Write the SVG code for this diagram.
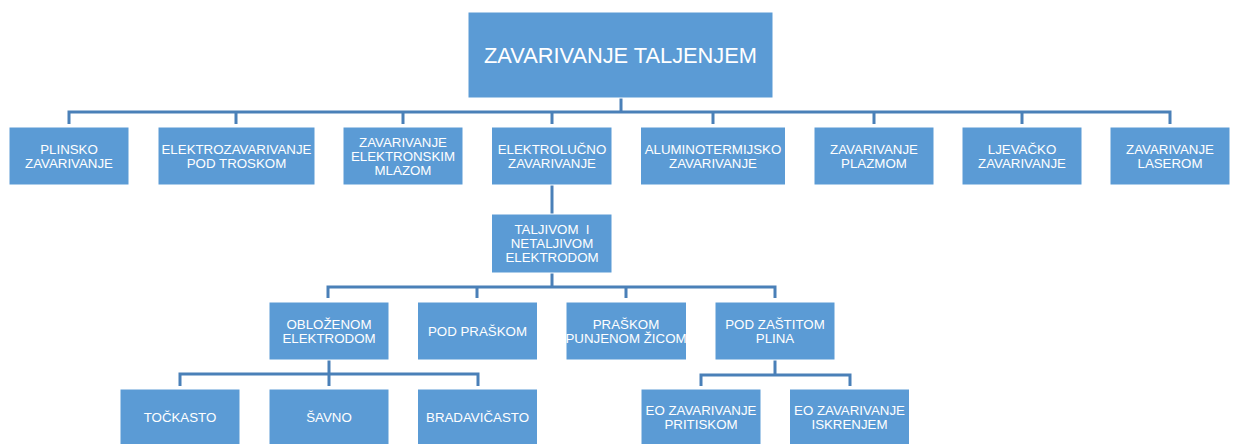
<svg xmlns="http://www.w3.org/2000/svg" width="1233" height="444" viewBox="0 0 1233 444">
<style>
.box{fill:#5b9bd5;stroke:#ffffff;stroke-width:1}
.t{font-family:"Liberation Sans",Arial,sans-serif;font-size:13.3px;fill:#ffffff;text-anchor:middle}
.title{font-family:"Liberation Sans",Arial,sans-serif;font-size:21.8px;fill:#ffffff;text-anchor:middle}
.c{fill:none;stroke:#4a80b8;stroke-width:3}
</style>
<rect width="1233" height="444" fill="#ffffff"/>
<g id="connectors">
<path class="c" d="M621 98V112M69 124V112H1170V124M236 112V124M403 112V124M552 112V124M713 112V124M874 112V124M1022 112V124"/>
<path class="c" d="M552 185V214"/>
<path class="c" d="M552 273V287M328 298V287H775V298M477 287V298M626 287V298"/>
<path class="c" d="M329 360V374M180 386V374H478V386M329 374V386"/>
<path class="c" d="M775 360V375M701 386V375H850V386"/>
</g>
<g id="root"><rect class="box" x="468" y="12" width="305" height="86"/><text class="title" x="620.5" y="62.7">ZAVARIVANJE TALJENJEM</text></g>
<g id="n1"><rect class="box" x="9" y="127" width="120" height="58"/><text class="t" x="69" y="153.8">PLINSKO<tspan x="69" dy="14">ZAVARIVANJE</tspan></text></g>
<g id="n2"><rect class="box" x="158" y="127" width="157" height="58"/><text class="t" x="236.5" y="153.8">ELEKTROZAVARIVANJE<tspan x="236.5" dy="14">POD TROSKOM</tspan></text></g>
<g id="n3"><rect class="box" x="343" y="127" width="120" height="58"/><text class="t" x="403" y="146.8">ZAVARIVANJE<tspan x="403" dy="14">ELEKTRONSKIM</tspan><tspan x="403" dy="14">MLAZOM</tspan></text></g>
<g id="n4"><rect class="box" x="491.5" y="127" width="120.5" height="58"/><text class="t" x="552" y="153.8">ELEKTROLUČNO<tspan x="552" dy="14">ZAVARIVANJE</tspan></text></g>
<g id="n5"><rect class="box" x="640.5" y="127" width="145" height="58"/><text class="t" x="713" y="153.8">ALUMINOTERMIJSKO<tspan x="713" dy="14">ZAVARIVANJE</tspan></text></g>
<g id="n6"><rect class="box" x="814" y="127" width="120" height="58"/><text class="t" x="874" y="153.8">ZAVARIVANJE<tspan x="874" dy="14">PLAZMOM</tspan></text></g>
<g id="n7"><rect class="box" x="962" y="127" width="120" height="58"/><text class="t" x="1022" y="153.8">LJEVAČKO<tspan x="1022" dy="14">ZAVARIVANJE</tspan></text></g>
<g id="n8"><rect class="box" x="1110" y="127" width="120" height="58"/><text class="t" x="1170" y="153.8">ZAVARIVANJE<tspan x="1170" dy="14">LASEROM</tspan></text></g>
<g id="n9"><rect class="box" x="491.5" y="214" width="120.5" height="59"/><text class="t" x="552" y="234.4" xml:space="preserve">TALJIVOM  I<tspan x="552" dy="14">NETALJIVOM</tspan><tspan x="552" dy="14">ELEKTRODOM</tspan></text></g>
<g id="n10"><rect class="box" x="269" y="302" width="120" height="58"/><text class="t" x="329" y="328.8">OBLOŽENOM<tspan x="329" dy="14">ELEKTRODOM</tspan></text></g>
<g id="n11"><rect class="box" x="417.5" y="302" width="120" height="58"/><text class="t" x="477.5" y="335.8">POD PRAŠKOM</text></g>
<g id="n12"><rect class="box" x="566" y="302" width="120.5" height="58"/><text class="t" x="626" y="328.8">PRAŠKOM<tspan x="626" dy="14">PUNJENOM ŽICOM</tspan></text></g>
<g id="n13"><rect class="box" x="715" y="302" width="120" height="58"/><text class="t" x="775" y="328.8">POD ZAŠTITOM<tspan x="775" dy="14">PLINA</tspan></text></g>
<g id="n14"><rect class="box" x="120" y="389" width="120" height="58"/><text class="t" x="180" y="422.2">TOČKASTO</text></g>
<g id="n15"><rect class="box" x="269" y="389" width="120" height="58"/><text class="t" x="329" y="422.2">ŠAVNO</text></g>
<g id="n16"><rect class="box" x="417.5" y="389" width="120" height="58"/><text class="t" x="477.5" y="422.2">BRADAVIČASTO</text></g>
<g id="n17"><rect class="box" x="641" y="389" width="120" height="58"/><text class="t" x="701" y="415.2">EO ZAVARIVANJE<tspan x="701" dy="14">PRITISKOM</tspan></text></g>
<g id="n18"><rect class="box" x="789.5" y="389" width="120" height="58"/><text class="t" x="849.5" y="415.2">EO ZAVARIVANJE<tspan x="849.5" dy="14">ISKRENJEM</tspan></text></g>
</svg>
